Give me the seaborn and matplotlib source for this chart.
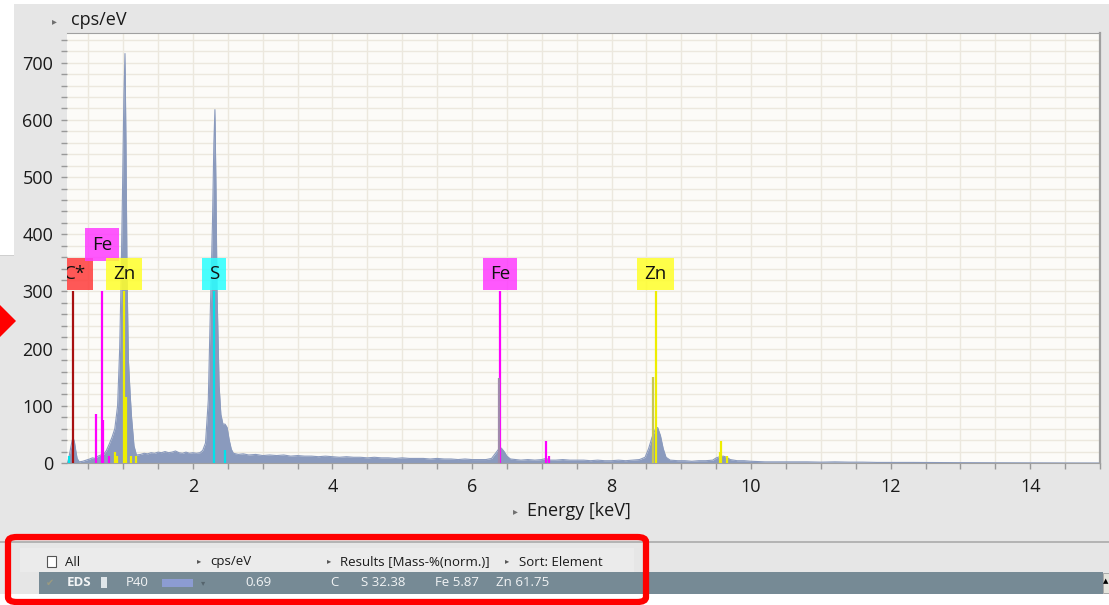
# EDS spectrum screenshot recreated with seaborn / matplotlib
import pandas as pd
import matplotlib.pyplot as plt
import seaborn as sns
from matplotlib.patches import Rectangle, Polygon, FancyBboxPatch
from matplotlib.ticker import MultipleLocator

# Spectrum: energy (keV) and intensity (cps/eV)
energy_kev = [0.20, 0.22, 0.25, 0.27, 0.285, 0.30, 0.32, 0.34, 0.37, 0.42, 0.47, 0.52, 0.56, 0.60,
              0.64, 0.68, 0.72, 0.76, 0.80, 0.84, 0.88, 0.92, 0.95, 0.97, 0.99, 1.01, 1.026, 1.04,
              1.055, 1.075, 1.10, 1.12, 1.155, 1.19, 1.25, 1.30, 1.35, 1.40, 1.45, 1.50, 1.55, 1.60,
              1.65, 1.70, 1.75, 1.80, 1.85, 1.90, 1.95, 2.00, 2.05, 2.10, 2.14, 2.18, 2.22, 2.25,
              2.28, 2.30, 2.315, 2.33, 2.345, 2.375, 2.40, 2.43, 2.46, 2.49, 2.52, 2.55, 2.58, 2.65,
              2.72, 2.80, 2.90, 3.00, 3.10, 3.20, 3.30, 3.40, 3.50, 3.60, 3.70, 3.80, 3.90, 4.00,
              4.10, 4.20, 4.30, 4.40, 4.50, 4.60, 4.70, 4.80, 4.90, 5.00, 5.10, 5.20, 5.30, 5.40,
              5.50, 5.60, 5.70, 5.80, 5.90, 6.00, 6.10, 6.20, 6.28, 6.33, 6.38, 6.42, 6.46, 6.50,
              6.55, 6.62, 6.70, 6.80, 6.90, 7.00, 7.06, 7.12, 7.20, 7.30, 7.40, 7.50, 7.60, 7.70,
              7.80, 7.90, 8.00, 8.10, 8.20, 8.30, 8.40, 8.48, 8.53, 8.58, 8.63, 8.66, 8.70, 8.74,
              8.78, 8.84, 8.95, 9.05, 9.15, 9.25, 9.35, 9.45, 9.50, 9.55, 9.60, 9.65, 9.70, 9.80,
              9.90, 10.0, 10.2, 10.4, 10.6, 10.8, 11.0, 11.2, 11.4, 11.6, 11.8, 12.0, 12.3, 12.6,
              13.0, 13.5, 14.0, 14.5, 15.0]
cps_per_ev = [0, 8, 28, 40, 43, 38, 22, 8, 2, 3, 5, 7, 9, 8,
              12, 14, 15, 22, 33, 45, 60, 100, 200, 320, 470, 640, 716, 560,
              330, 180, 120, 80, 30, 14, 15, 17, 16, 18, 17, 19, 18, 20,
              18, 19, 21, 18, 17, 19, 17, 18, 17, 18, 22, 35, 110, 270,
              420, 560, 618, 480, 300, 135, 85, 68, 68, 62, 40, 24, 17, 15,
              16, 14, 15, 13, 14, 13, 14, 12, 13, 12, 12, 11, 12, 11,
              10, 11, 10, 10, 9, 10, 9, 9, 8, 9, 8, 8, 8, 7,
              8, 7, 7, 6, 7, 6, 6, 6, 8, 16, 24, 26, 20, 12,
              7, 6, 5, 6, 5, 6, 8, 5, 5, 6, 5, 5, 5, 4,
              5, 4, 4, 5, 4, 5, 6, 10, 25, 45, 60, 62, 48, 25,
              10, 5, 4, 4, 3, 4, 4, 5, 9, 11, 12, 10, 6, 4,
              4, 3, 2, 2, 2, 2, 1.5, 2, 1.5, 1.5, 1, 1, 1, 0.8,
              0.6, 0.4, 0.2, 0.1, 0]

# Element marker lines
line_kev = [0.23, 0.28, 0.61, 0.696, 0.715, 0.79, 0.884, 0.907, 1.012, 1.035, 1.107, 1.19,
            2.301, 2.464, 6.385, 6.398, 7.058, 7.10, 8.60, 8.63, 9.55, 9.572, 9.65]
line_height = [12, 300, 86, 300, 75, 12, 20, 12, 300, 116, 12, 12,
               300, 22, 148, 300, 38, 12, 150, 300, 20, 38, 12]
line_elem = ['S', 'C', 'Fe', 'Fe', 'Fe', 'Fe', 'Zn', 'Zn', 'Zn', 'Zn', 'Zn', 'Zn',
             'S', 'S', 'Fe2', 'Fe', 'Fe', 'Fe', 'Zn2', 'Zn', 'Zn', 'Zn', 'Zn']

# Element label boxes
label_text = ['C*', 'Fe', 'Zn', 'S', 'Fe', 'Zn']
label_kev = [0.31, 0.696, 1.012, 2.301, 6.398, 8.63]
label_row = [0, 1, 0, 0, 0, 0]

# Results table
header_text = ['All', 'cps/eV', 'Results [Mass-%(norm.)]', 'Sort: Element']
row_text = ['EDS', 'P40', '0.69', 'C', 'S 32.38', 'Fe 5.87', 'Zn 61.75']

line_colors = {'C': '#a81010', 'Fe': '#ff00ff', 'Zn': '#eeee00', 'S': '#00e2ea',
               'Fe2': '#a08aac', 'Zn2': '#c8c850'}
box_colors = {'C*': '#ff3b3b', 'Fe': '#ff3bff', 'Zn': '#ffff2a', 'S': '#2affff'}

sns.set_style('white')
plt.rcParams['font.family'] = ['Open Sans', 'DejaVu Sans']

W, H = 1109, 605
fig = plt.figure(figsize=(W / 100, H / 100), dpi=100, facecolor='#e6e6e6')


def fx(x):
    return x / W


def fy(y):
    return 1 - y / H


def fig_rect(x0, y0, x1, y1, **kw):
    fig.patches.append(Rectangle((fx(x0), fy(y1)), (x1 - x0) / W, (y1 - y0) / H,
                                 transform=fig.transFigure, **kw))


ax = fig.add_axes([fx(67), fy(463), (1100 - 67) / W, (463 - 33) / H])
ax.set_facecolor('#fcfbf8')

spec = pd.DataFrame({'energy': energy_kev, 'cps': cps_per_ev})
ax.fill_between(spec['energy'], 0, spec['cps'], color='#8a9abd', lw=0, zorder=2)
sns.lineplot(data=spec, x='energy', y='cps', ax=ax, color='#8a9abd', lw=0.8, zorder=2)

lines = pd.DataFrame({'kev': line_kev, 'h': line_height, 'elem': line_elem})
for el, grp in lines.groupby('elem'):
    ax.vlines(grp['kev'], 0, grp['h'], colors=line_colors[el], lw=1.6, zorder=3)

row_y = [331, 382]
for txt, x, r in zip(label_text, label_kev, label_row):
    ax.text(x, row_y[r], txt, ha='center', va='center', fontsize=13.5, color='#111111',
            zorder=5, clip_on=True,
            bbox=dict(boxstyle='square,pad=0.38', fc=box_colors[txt], ec='none', alpha=0.85))

ax.set_xlim(0.195, 15.0)
ax.set_ylim(0, 752)
ax.xaxis.set_major_locator(MultipleLocator(2))
ax.xaxis.set_minor_locator(MultipleLocator(0.5))
ax.yaxis.set_major_locator(MultipleLocator(100))
ax.yaxis.set_minor_locator(MultipleLocator(20))
ax.grid(which='both', color='#ece8de', lw=1.0, zorder=0)
ax.set_axisbelow(True)
ax.tick_params(which='both', direction='out', color='#999999', width=1, length=4,
               labelsize=13, labelcolor='#1a1a1a')
ax.tick_params(axis='x', which='both', pad=7, bottom=True)
ax.tick_params(axis='y', which='both', pad=6, left=True)
ax.set_xlabel('')
ax.set_ylabel('')
for side in ['top', 'right', 'bottom']:
    ax.spines[side].set_color('#a0a0a0')
ax.spines['right'].set_linewidth(1.6)
ax.spines['left'].set_visible(False)

# axis captions
fig.text(fx(54), fy(22), '\u25b8', fontsize=7, color='#707070', ha='center', va='center')
fig.text(fx(71), fy(20), 'cps/eV', fontsize=13, color='#1a1a1a', ha='left', va='center')
fig.text(fx(515), fy(512), '\u25b8', fontsize=7, color='#707070', ha='center', va='center')
fig.text(fx(527), fy(511), 'Energy [keV]', fontsize=13, color='#1a1a1a', ha='left', va='center')

# surrounding window pieces
fig_rect(0, 0, W, 4, fc='white', ec='none')
fig_rect(0, 0, 14, 255, fc='white', ec='none')
fig_rect(0, 255, 14, 256, fc='#cfcfcf', ec='none')
fig.patches.append(Polygon([(fx(0), fy(305)), (fx(16), fy(321)), (fx(0), fy(337))],
                           closed=True, fc='#ff0000', ec='none', transform=fig.transFigure))

# results panel
fig_rect(0, 541, W, 542.5, fc='#b4b4b4', ec='none')
fig_rect(0, 594, W, H, fc='white', ec='none')
fig_rect(20, 548, 634, 572, fc='#ebebeb', ec='none')
fig_rect(39, 572, 1103, 594, fc='#768a95', ec='none')
fig_rect(1103, 573, W, 593, fc='#e4e4dc', ec='#a0a0a0', lw=0.6)
fig.text(fx(1106), fy(582), '\u25b2', fontsize=5, color='black', ha='center', va='center')

fig_rect(47, 556, 56, 567, fc='white', ec='#555555', lw=0.8)
hx = [65, 210, 340, 519]
tri_x = [None, 199, 329, 507]
for s, x, t in zip(header_text, hx, tri_x):
    fig.text(fx(x), fy(562), s, fontsize=9.5, color='#1a1a1a', ha='left', va='center')
    if t is not None:
        fig.text(fx(t), fy(562), '\u25b8', fontsize=6, color='#555555', ha='center', va='center')

fig.text(fx(50), fy(583), '\u2714', fontsize=7, color='#9a9a80', ha='center', va='center')
fig_rect(101, 577, 107, 588, fc='#dfe6ea', ec='none')
fig_rect(162, 579, 193, 587, fc='#8c9cd2', ec='none')
fig.text(fx(203), fy(584), '\u25be', fontsize=6, color='#56656e', ha='center', va='center')
rx = [67, 126, 245, 330, 361, 435, 496]
for s, x in zip(row_text, rx):
    fig.text(fx(x), fy(583), s, fontsize=9.5, color='#f2f4f5', ha='left', va='center',
             fontweight='bold' if s == 'EDS' else 'normal')

fig.patches.append(FancyBboxPatch((fx(8), fy(602)), (646 - 8) / W, (602 - 537) / H,
                                  boxstyle='round,pad=0,rounding_size=0.008',
                                  fc='none', ec='#ff0000', lw=4.5,
                                  transform=fig.transFigure))

fig.savefig('out.png', dpi=100, facecolor=fig.get_facecolor())
